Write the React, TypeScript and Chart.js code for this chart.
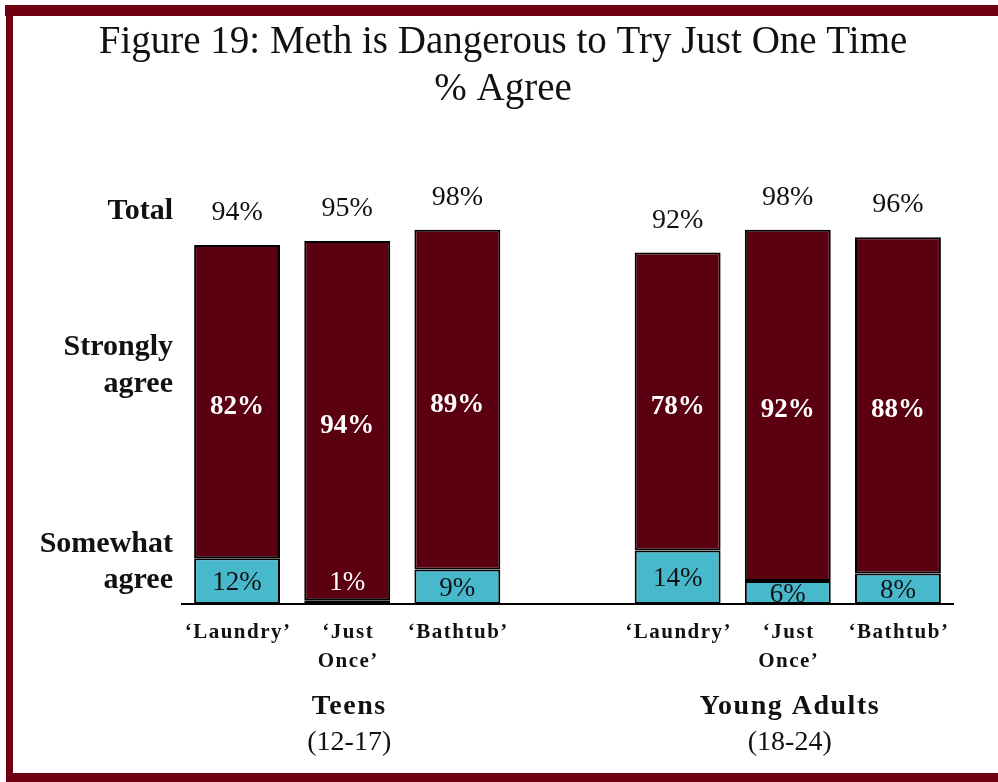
import React, { useEffect, useRef } from "react";
import { Chart, registerables } from "chart.js";

Chart.register(...registerables);

const titleLines = ["Figure 19: Meth is Dangerous to Try Just One Time", "% Agree"];
const categories = [["‘Laundry’"], ["‘Just", "Once’"], ["‘Bathtub’"], [""], ["‘Laundry’"], ["‘Just", "Once’"], ["‘Bathtub’"]];
const somewhatAgree = [12, 1, 9, null, 14, 6, 8];
const stronglyAgree = [82, 94, 89, null, 78, 92, 88];
const totals = [94, 95, 98, null, 92, 98, 96];
const groups = [
  { name: "Teens", range: "(12-17)", center: 1 },
  { name: "Young Adults", range: "(18-24)", center: 5 },
];
const rowLabels = [
  { lines: ["Total"], baselines: [219] },
  { lines: ["Strongly", "agree"], baselines: [355, 392] },
  { lines: ["Somewhat", "agree"], baselines: [552, 588] },
];

const DARK = "#5a0010";
const CYAN = "#48b9cd";
const FRAME = "#6e0012";
const SERIF = '"Liberation Serif", "Times New Roman", serif';

const overlay = {
  id: "overlay",
  afterDraw(chart: any) {
    const ctx = chart.ctx;
    const x = chart.scales.x;
    const y = chart.scales.y;
    ctx.save();
    // frame
    ctx.fillStyle = FRAME;
    ctx.fillRect(5, 5, 993, 11);
    ctx.fillRect(6, 5, 7, 777);
    ctx.fillRect(6, 773, 992, 9);

    // title
    ctx.fillStyle = "#111";
    ctx.textAlign = "center";
    ctx.textBaseline = "alphabetic";
    ctx.font = `39px ${SERIF}`;
    ctx.fillText(titleLines[0], 503, 53);
    ctx.fillText(titleLines[1], 503, 100);

    // row labels
    ctx.textAlign = "right";
    ctx.font = `bold 30px ${SERIF}`;
    rowLabels.forEach((r) => {
      r.lines.forEach((l, i) => ctx.fillText(l, 173, r.baselines[i]));
    });

    // category labels
    ctx.textAlign = "center";
    ctx.font = `bold 21px ${SERIF}`;
    (ctx as any).letterSpacing = "1.5px";
    categories.forEach((lines, i) => {
      const px = x.getPixelForValue(i);
      lines.forEach((l, j) => ctx.fillText(l, px + 1, 638 + j * 29));
    });
    (ctx as any).letterSpacing = "1.5px";
    groups.forEach((g) => {
      const px = x.getPixelForValue(g.center) + 2;
      ctx.font = `bold 28px ${SERIF}`;
      ctx.fillText(g.name, px, 714);
      (ctx as any).letterSpacing = "0px";
      ctx.font = `28px ${SERIF}`;
      ctx.fillText(g.range, px, 750);
      (ctx as any).letterSpacing = "1.5px";
    });
    (ctx as any).letterSpacing = "0px";

    // value labels
    const base = y.getPixelForValue(0);
    categories.forEach((_, i) => {
      const s = somewhatAgree[i];
      const st = stronglyAgree[i];
      const t = totals[i];
      if (s == null || st == null || t == null) return;
      const px = x.getPixelForValue(i);
      const sTop = y.getPixelForValue(s);
      const top = y.getPixelForValue(s + st);
      ctx.textAlign = "center";
      ctx.textBaseline = "alphabetic";
      ctx.fillStyle = "#111";
      ctx.font = `28px ${SERIF}`;
      ctx.fillText(`${t}%`, px, top - 25);
      ctx.textBaseline = "middle";
      ctx.fillStyle = "#fff";
      ctx.font = `bold 27px ${SERIF}`;
      ctx.fillText(`${st}%`, px, (top + sTop) / 2 + 5);
      ctx.font = `27px ${SERIF}`;
      if (s < 3) {
        ctx.fillStyle = "#fff";
        ctx.fillText(`${s}%`, px, base - 21);
      } else {
        ctx.fillStyle = "#111";
        ctx.fillText(`${s}%`, px, (sTop + base) / 2 + 2);
      }
    });
    ctx.restore();
  },
};

export default function App() {
  const ref = useRef<HTMLCanvasElement>(null);
  useEffect(() => {
    document.body.style.margin = "0";
    const chart = new Chart(ref.current!, {
      type: "bar",
      data: {
        labels: categories.map((c) => c.join(" ")),
        datasets: [
          {
            label: "Somewhat agree",
            data: somewhatAgree,
            backgroundColor: CYAN,
            borderColor: "#000",
            borderWidth: 2,
            borderSkipped: false,
          },
          {
            label: "Strongly agree",
            data: stronglyAgree,
            backgroundColor: DARK,
            borderColor: "#000",
            borderWidth: 2,
            borderSkipped: false,
          },
        ],
      },
      options: {
        animation: false,
        responsive: false,
        devicePixelRatio: 1,
        layout: { padding: { left: 182, right: 45, top: 222, bottom: 178 } },
        datasets: { bar: { categoryPercentage: 0.78, barPercentage: 1 } },
        plugins: { legend: { display: false }, tooltip: { enabled: false }, title: { display: false } },
        scales: {
          x: {
            stacked: true,
            grid: { display: false },
            ticks: { display: false },
            border: { display: true, color: "#000", width: 2 },
            afterFit: (s: any) => {
              s.height = 0;
            },
          },
          y: { stacked: true, min: 0, max: 100, display: false },
        },
      },
      plugins: [overlay],
    });
    return () => chart.destroy();
  }, []);
  return (
    <div style={{ width: 998, height: 782, background: "#fff" }}>
      <canvas ref={ref} width={998} height={782} />
    </div>
  );
}
